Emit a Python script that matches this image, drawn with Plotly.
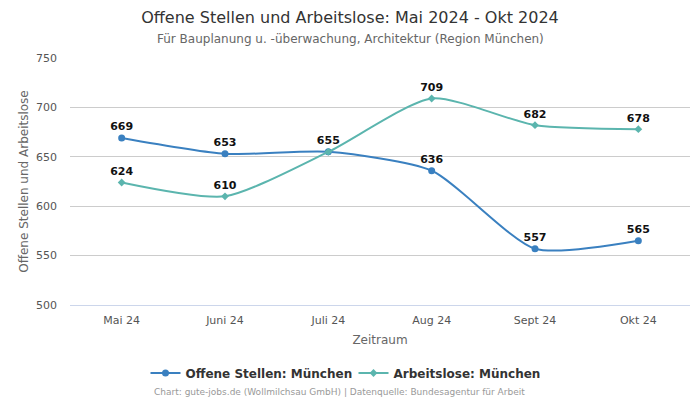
import plotly.graph_objects as go

months = ["Mai 24", "Juni 24", "Juli 24", "Aug 24", "Sept 24", "Okt 24"]
offene = [669, 653, 655, 636, 557, 565]
arbeitslose = [624, 610, 655, 709, 682, 678]

blue = "#3a80c0"
teal = "#5bb5ae"

offene_text = [str(v) for v in offene]
arbeitslose_text = [("" if a == o else str(a)) for a, o in zip(arbeitslose, offene)]

label_font = dict(family="DejaVu Sans", size=11, color="#111111", weight="bold")

fig = go.Figure()
fig.add_trace(go.Scatter(
    x=months, y=offene, name="Offene Stellen: München",
    mode="lines+markers+text", line=dict(color=blue, width=2, shape="spline", smoothing=0.65),
    marker=dict(symbol="circle", size=7, color=blue),
    text=offene_text, textposition="top center", textfont=label_font,
    cliponaxis=False,
))
fig.add_trace(go.Scatter(
    x=months, y=arbeitslose, name="Arbeitslose: München",
    mode="lines+markers+text", line=dict(color=teal, width=2, shape="spline", smoothing=0.65),
    marker=dict(symbol="diamond", size=6, color=teal),
    text=arbeitslose_text, textposition="top center", textfont=label_font,
    cliponaxis=False,
))

fig.update_layout(
    width=700, height=400,
    margin=dict(l=70, r=10, t=58, b=95, autoexpand=False),
    paper_bgcolor="white", plot_bgcolor="white",
    font=dict(family="DejaVu Sans", color="#555555", size=11),
    title=dict(
        text="Offene Stellen und Arbeitslose: Mai 2024 - Okt 2024",
        x=0.5, xanchor="center", xref="container", yref="container",
        y=1 - 17 / 400, yanchor="middle",
        font=dict(size=16, color="#333333"),
    ),
    xaxis=dict(
        title=dict(text="Zeitraum", font=dict(size=12, color="#666666"), standoff=9),
        showgrid=False, showline=True, linecolor="#ccd6eb", linewidth=1,
        ticks="", tickfont=dict(size=11, color="#555555"), ticklabelstandoff=5,
        range=[-0.5, 5.5],
    ),
    yaxis=dict(
        title=dict(text="Offene Stellen und Arbeitslose", font=dict(size=12, color="#666666"), standoff=4),
        range=[500, 750], dtick=50, gridcolor="#cccccc", gridwidth=1,
        zeroline=False, showline=False, tickfont=dict(size=11, color="#555555"),
        ticklabelstandoff=12,
    ),
    legend=dict(
        orientation="h", x=0.505, xanchor="center", xref="container",
        yref="container", y=1 - 373 / 400, yanchor="middle",
        entrywidth=163, entrywidthmode="pixels",
        font=dict(size=12, color="#333333", weight="bold"),
    ),
    showlegend=True,
)
fig.add_annotation(
    text="Für Bauplanung u. -überwachung, Architektur (Region München)",
    xref="paper", yref="paper", x=(350 - 70) / 620, y=(305 - 39) / 247,
    xanchor="center", yanchor="middle",
    showarrow=False, font=dict(size=12, color="#666666"),
)
fig.add_annotation(
    text="Chart: gute-jobs.de (Wollmilchsau GmbH) | Datenquelle: Bundesagentur für Arbeit",
    xref="paper", yref="paper", x=(339 - 70) / 620, y=(305 - 392) / 247,
    xanchor="center", yanchor="middle",
    showarrow=False, font=dict(size=9, color="#999999"),
)
fig.write_html(
    "out.html",
    config={"displayModeBar": False},
    post_script="document.body.style.margin='0';document.body.style.overflow='hidden';",
)
